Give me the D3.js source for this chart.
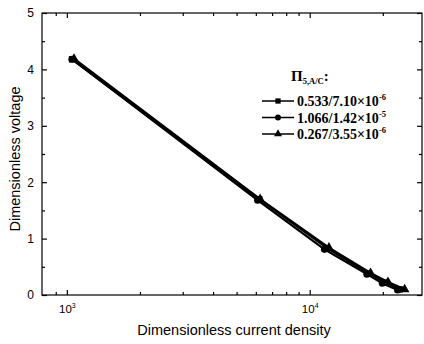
<!DOCTYPE html>
<html>
<head>
    <title>Dimensionless voltage vs current density</title>
    <meta charset="utf-8">
    <style>
        body { margin: 0; background: #fff; }
        svg { display: block; }
    </style>
</head>
<body>
<script src="https://d3js.org/d3.v7.min.js"></script>
<script>
    // Data
    const currentA = [1050, 6200, 11800, 17500, 20500, 23500];
    const voltageA = [4.18, 1.70, 0.83, 0.38, 0.22, 0.10];
    const currentB = [1050, 6100, 11500, 17200, 19900, 23000];
    const voltageB = [4.18, 1.68, 0.81, 0.37, 0.21, 0.09];
    const currentC = [1070, 6250, 12000, 17800, 21000, 24600];
    const voltageC = [4.19, 1.70, 0.84, 0.39, 0.23, 0.10];
    const seriesLabels = [
        {base: '0.533/7.10×10', exp: '-6'},
        {base: '1.066/1.42×10', exp: '-5'},
        {base: '0.267/3.55×10', exp: '-6'}
    ];
    const symbols = [d3.symbolSquare, d3.symbolCircle, d3.symbolTriangle];
    const yTicks = [0, 1, 2, 3, 4, 5];
    const xMajor = [1000, 10000];

    const W = 424, H = 344;
    const M = {left: 42, top: 13, right: 2, bottom: 49};

    const svg = d3.select('body').append('svg')
        .attr('width', W)
        .attr('height', H);

    const x = d3.scaleLog().domain([790, 29000]).range([M.left, W - M.right]);
    const y = d3.scaleLinear().domain([0, 5]).range([H - M.bottom, M.top]);

    // minor log ticks (the 800 one sits on the frame, so start at 900)
    const xMinor = [];
    [100, 1000, 10000].forEach(d => {
        for (let k = 2; k <= 9; k++) {
            const v = d * k;
            if (v >= 900 && v < 29000) xMinor.push(v);
        }
    });
    const yMinor = d3.range(0.5, 5, 1);

    const g = svg.append('g');

    // Frame
    g.append('rect')
        .attr('x', M.left).attr('y', M.top)
        .attr('width', W - M.right - M.left)
        .attr('height', H - M.bottom - M.top)
        .attr('fill', 'none')
        .attr('stroke', '#000')
        .attr('stroke-width', 1.2);

    const styleAxis = sel => {
        sel.select('.domain').remove();
        sel.selectAll('line').attr('stroke', '#000').attr('stroke-width', 1.2);
    };

    // Bottom axis
    g.append('g')
        .attr('transform', `translate(0,${H - M.bottom})`)
        .call(d3.axisBottom(x).tickValues(xMajor).tickSizeInner(-5).tickSizeOuter(0).tickPadding(10).tickFormat(() => ''))
        .call(styleAxis)
        .call(s => s.selectAll('.tick text').each(function (d) {
            const t = d3.select(this)
                .attr('font-family', 'Arial, Liberation Sans, sans-serif')
                .attr('font-size', 11.5).attr('fill', '#000');
            t.append('tspan').text('10');
            t.append('tspan').attr('dy', -5).attr('font-size', 7).text(Math.round(Math.log10(d)));
        }));
    g.append('g')
        .attr('transform', `translate(0,${H - M.bottom})`)
        .call(d3.axisBottom(x).tickValues(xMinor).tickSizeInner(-3).tickSizeOuter(0).tickFormat(''))
        .call(styleAxis);

    // Top axis (mirror)
    g.append('g')
        .attr('transform', `translate(0,${M.top})`)
        .call(d3.axisTop(x).tickValues(xMajor).tickSizeInner(-5).tickSizeOuter(0).tickFormat(''))
        .call(styleAxis);
    g.append('g')
        .attr('transform', `translate(0,${M.top})`)
        .call(d3.axisTop(x).tickValues(xMinor).tickSizeInner(-3).tickSizeOuter(0).tickFormat(''))
        .call(styleAxis);

    // Left axis
    g.append('g')
        .attr('transform', `translate(${M.left},0)`)
        .call(d3.axisLeft(y).tickValues(yTicks).tickSizeInner(-5).tickSizeOuter(0).tickPadding(8).tickFormat(d3.format('d')))
        .call(styleAxis)
        .call(s => s.selectAll('.tick text')
            .attr('font-family', 'Arial, Liberation Sans, sans-serif')
            .attr('font-size', 12).attr('fill', '#000'));
    g.append('g')
        .attr('transform', `translate(${M.left},0)`)
        .call(d3.axisLeft(y).tickValues(yMinor).tickSizeInner(-3).tickSizeOuter(0).tickFormat(''))
        .call(styleAxis);

    // Right axis (mirror)
    g.append('g')
        .attr('transform', `translate(${W - M.right},0)`)
        .call(d3.axisRight(y).tickValues(yTicks).tickSizeInner(-5).tickSizeOuter(0).tickFormat(''))
        .call(styleAxis);
    g.append('g')
        .attr('transform', `translate(${W - M.right},0)`)
        .call(d3.axisRight(y).tickValues(yMinor).tickSizeInner(-3).tickSizeOuter(0).tickFormat(''))
        .call(styleAxis);

    // Axis titles
    svg.append('text')
        .attr('x', 234)
        .attr('y', 335)
        .attr('text-anchor', 'middle')
        .attr('font-family', 'Arial, Liberation Sans, sans-serif')
        .attr('font-size', 14.5)
        .text('Dimensionless current density');
    svg.append('text')
        .attr('transform', `translate(20,159) rotate(-90)`)
        .attr('text-anchor', 'middle')
        .attr('font-family', 'Arial, Liberation Sans, sans-serif')
        .attr('font-size', 14.5)
        .text('Dimensionless voltage');

    // Series
    const series = [
        {xs: currentA, ys: voltageA},
        {xs: currentB, ys: voltageB},
        {xs: currentC, ys: voltageC}
    ].map((s, i) => ({points: s.xs.map((v, j) => [v, s.ys[j]]), symbol: symbols[i]}));

    const line = d3.line().x(d => x(d[0])).y(d => y(d[1]));
    series.forEach(s => {
        g.append('path')
            .attr('d', line(s.points))
            .attr('fill', 'none')
            .attr('stroke', '#000')
            .attr('stroke-width', 2.2);
        g.selectAll(null)
            .data(s.points)
            .enter()
            .append('path')
            .attr('transform', d => `translate(${x(d[0])},${y(d[1])})`)
            .attr('d', d3.symbol().type(s.symbol).size(40))
            .attr('fill', '#000');
    });

    // Legend
    const legend = svg.append('g').attr('transform', 'translate(262,0)');
    const title = legend.append('text')
        .attr('x', 29).attr('y', 81)
        .attr('font-family', 'Liberation Serif, Times New Roman, serif')
        .attr('font-weight', 'bold')
        .attr('font-size', 15);
    title.append('tspan').text('Π');
    title.append('tspan').attr('dy', 3).attr('font-size', 8.5).text('5,A/C');
    title.append('tspan').attr('dy', -3).text(':');

    seriesLabels.forEach((lab, i) => {
        const ly = 101 + i * 16.5;
        legend.append('line')
            .attr('x1', 0).attr('x2', 32)
            .attr('y1', ly).attr('y2', ly)
            .attr('stroke', '#000').attr('stroke-width', 1.5);
        legend.append('path')
            .attr('transform', `translate(16,${ly})`)
            .attr('d', d3.symbol().type(symbols[i]).size(28))
            .attr('fill', '#000');
        const t = legend.append('text')
            .attr('x', 35).attr('y', ly + 5)
            .attr('font-family', 'Liberation Serif, Times New Roman, serif')
            .attr('font-weight', 'bold')
            .attr('font-size', 14);
        t.append('tspan').text(lab.base);
        t.append('tspan').attr('dy', -6).attr('font-size', 8.5).text(lab.exp);
    });
</script>
</body>
</html>
